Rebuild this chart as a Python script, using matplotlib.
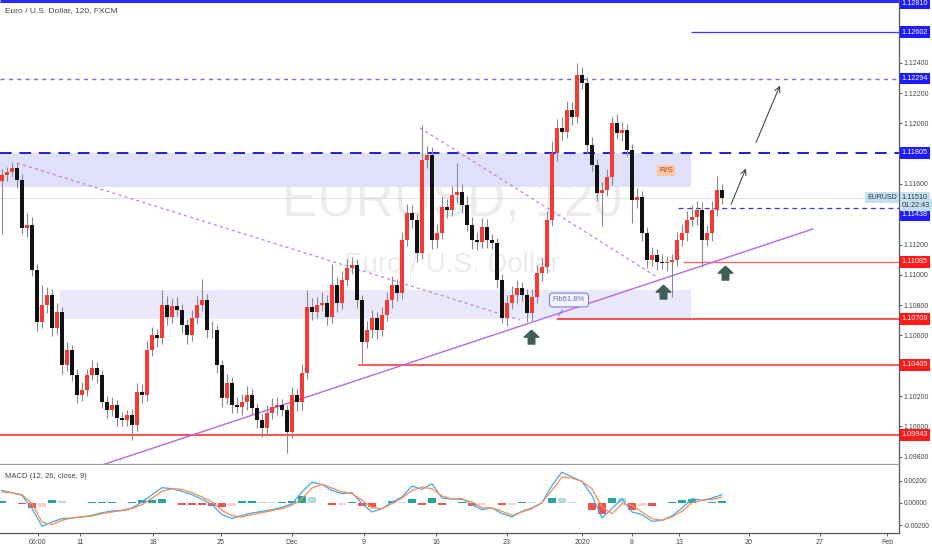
import numpy as np
import matplotlib
matplotlib.use("Agg")
import matplotlib.pyplot as plt
import matplotlib.transforms as mtransforms
from matplotlib.path import Path

plt.rcParams['font.family'] = ['Liberation Sans', 'DejaVu Sans']

# ---- price data (one candle ~ 4 bars of 2h) ----
first_open = 1.11620
closes = [
    1.11659, 1.11679, 1.11705, 1.11626, 1.11309, 1.11329, 1.11032, 1.10689, 1.10801, 1.10867,
    1.10649, 1.10755, 1.10405, 1.10504, 1.10339, 1.10207, 1.10240, 1.10339, 1.10385, 1.10339,
    1.10161, 1.10108, 1.10141, 1.10055, 1.10042, 1.10075, 1.10009, 1.10227, 1.10207, 1.10504,
    1.10603, 1.10583, 1.10801, 1.10722, 1.10794, 1.10768, 1.10669, 1.10603, 1.10715, 1.10801,
    1.10834, 1.10636, 1.10636, 1.10405, 1.10187, 1.10286, 1.10141, 1.10128, 1.10161, 1.10207,
    1.10121, 1.10042, 1.09989, 1.10088, 1.10128, 1.10141, 1.10108, 1.09963, 1.10207, 1.10161,
    1.10352, 1.10788, 1.10755, 1.10801, 1.10814, 1.10722, 1.10933, 1.10814, 1.10966, 1.11045,
    1.11065, 1.10834, 1.10557, 1.10636, 1.10715, 1.10636, 1.10735, 1.10834, 1.10933, 1.10880,
    1.11230, 1.11408, 1.11362, 1.11144, 1.11758, 1.11791, 1.11230, 1.11276, 1.11448, 1.11428,
    1.11527, 1.11547, 1.11461, 1.11329, 1.11230, 1.11217, 1.11316, 1.11230, 1.11210, 1.10966,
    1.10715, 1.10814, 1.10867, 1.10913, 1.10867, 1.10748, 1.10854, 1.11012, 1.11052, 1.11362,
    1.11804, 1.11969, 1.11943, 1.12088, 1.12042, 1.12319, 1.12266, 1.11857, 1.11725, 1.11540,
    1.11560, 1.11646, 1.12002, 1.11936, 1.11956, 1.11824, 1.11494, 1.11514, 1.11276, 1.11098,
    1.11131, 1.11085, 1.11078, 1.11085, 1.11098, 1.11230, 1.11276, 1.11362, 1.11382, 1.11428,
    1.11230, 1.11276, 1.11428, 1.11560, 1.11510,
]
# wick length beyond the body, in pips
hi_pips = [
    4, 3, 4, 3, 4, 8, 5, 4, 13, 5,
    4, 6, 3, 5, 3, 4, 5, 4, 5, 4,
    3, 4, 5, 3, 4, 3, 4, 6, 5, 6,
    5, 4, 10, 6, 5, 6, 4, 4, 5, 6,
    14, 4, 6, 3, 3, 6, 4, 5, 5, 6,
    4, 3, 4, 5, 6, 5, 4, 3, 5, 4,
    6, 11, 6, 5, 7, 5, 14, 5, 6, 6,
    5, 4, 3, 6, 5, 4, 5, 5, 6, 4,
    5, 6, 5, 4, 23, 6, 5, 6, 7, 5,
    6, 19, 5, 6, 5, 5, 6, 5, 4, 3,
    4, 5, 6, 5, 4, 4, 5, 5, 6, 6,
    8, 6, 7, 6, 5, 8, 5, 4, 5, 4,
    5, 5, 4, 6, 5, 4, 4, 6, 4, 4,
    5, 4, 5, 4, 4, 5, 6, 6, 8, 6,
    5, 5, 6, 9, 4,
]
lo_pips = [
    35, 4, 3, 5, 4, 6, 4, 6, 4, 5,
    5, 4, 6, 4, 4, 5, 4, 4, 3, 5,
    4, 5, 4, 5, 4, 4, 10, 4, 5, 4,
    4, 6, 4, 5, 4, 4, 5, 6, 4, 4,
    4, 5, 5, 5, 6, 4, 5, 4, 5, 5,
    4, 5, 6, 4, 4, 5, 4, 14, 4, 6,
    5, 4, 5, 4, 4, 5, 4, 6, 4, 4,
    4, 5, 14, 4, 5, 6, 4, 4, 5, 5,
    4, 4, 5, 6, 4, 5, 6, 5, 4, 5,
    4, 5, 5, 4, 6, 5, 4, 5, 4, 5,
    3, 5, 4, 5, 4, 6, 5, 4, 5, 4,
    4, 5, 5, 4, 5, 4, 4, 5, 4, 5,
    22, 4, 5, 4, 5, 4, 15, 5, 5, 5,
    4, 5, 4, 5, 23, 4, 4, 5, 4, 5,
    18, 4, 5, 4, 4,
]

macd_line = [
    0.00112, 0.00092, 0.00068, -0.00050, -0.00207, -0.00169, -0.00139, -0.00133, -0.00124, -0.00110,
    -0.00086, -0.00071, -0.00065, -0.00044, 0.00009, 0.00074, 0.00136, 0.00127, 0.00104, 0.00074,
    0.00033, -0.00015, -0.00104, -0.00139, -0.00110, -0.00089, -0.00074, -0.00059, -0.00038, -0.00006,
    0.00098, 0.00186, 0.00163, 0.00112, 0.00083, 0.00092, -0.00006, -0.00080, -0.00050, 0.00009,
    0.00053, 0.00151, 0.00121, 0.00172, 0.00044, 0.00033, 0.00038, -0.00015, -0.00059, -0.00044,
    -0.00095, -0.00124, -0.00074, -0.00044, 0.00003, 0.00157, 0.00275, 0.00231, 0.00192, 0.00068,
    -0.00133, -0.00050, 0.00038, -0.00080, -0.00104, -0.00163, -0.00154, -0.00115, -0.00044, 0.00038,
    0.00024, 0.00044, 0.00074,
]
signal_line = [
    0.00098, 0.00092, 0.00074, -0.00006, -0.00169, -0.00192, -0.00154, -0.00133, -0.00124, -0.00115,
    -0.00095, -0.00080, -0.00068, -0.00050, -0.00015, 0.00044, 0.00104, 0.00127, 0.00121, 0.00092,
    0.00053, 0.00009, -0.00065, -0.00115, -0.00124, -0.00104, -0.00086, -0.00068, -0.00050, -0.00021,
    0.00038, 0.00133, 0.00166, 0.00133, 0.00098, 0.00083, 0.00024, -0.00044, -0.00050, -0.00006,
    0.00044, 0.00112, 0.00142, 0.00127, 0.00062, 0.00033, 0.00033, 0.00009, -0.00044, -0.00044,
    -0.00074, -0.00110, -0.00080, -0.00050, 0.00003, 0.00112, 0.00231, 0.00222, 0.00192, 0.00127,
    -0.00036, -0.00095, -0.00006, -0.00021, -0.00080, -0.00139, -0.00154, -0.00124, -0.00074, 0.00003,
    0.00024, 0.00033, 0.00053,
]

# x axis (candle index units)
tick_pos = [7.2, 15.6, 30.2, 43.8, 58, 72.4, 86.8, 101, 116, 126, 135.4, 149.4, 163.6, 177]
tick_lab = ['06:00', '11', '18', '25', 'Dec', '9', '16', '23', '2020', '8', '13', '20', '27', 'Feb']

price_ticks = [1.098, 1.100, 1.102, 1.106, 1.108, 1.110, 1.112, 1.116, 1.120, 1.122, 1.124]

blue_levels = [1.12810, 1.12602, 1.12294, 1.11805, 1.11438]
red_levels = [1.11085, 1.10709, 1.10405, 1.09943]
level_start = {1.12810: None, 1.12602: 137.8, 1.12294: None, 1.11805: None,
               1.11438: 135.2, 1.11085: 136.2, 1.10709: 111.0, 1.10405: 71.2, 1.09943: None}
last_price = 1.11510

zone_hi = (-0.4, 137.8, 1.11581, 1.11805)
zone_lo = (11.6, 137.8, 1.10709, 1.10900)

trend_dash1 = ([3.0, 103.6], [1.11738, 1.10702])
trend_dash2 = ([83.6, 131.0], [1.11969, 1.10986])
trend_solid = ([20.0, 162.2], [1.09745, 1.11303])

arrow_small = ((145.6, 1.11448), (149.0, 1.11719))
arrow_big = ((150.6, 1.11857), (155.8, 1.12266))
up_marks_x = [105.8, 132.2, 144.6]
up_marks_y = [1.10590, 1.10886, 1.11012]

# ---- figure ----
W, H = 932, 550
fig = plt.figure(figsize=(W / 100, H / 100), dpi=100)
fig.patch.set_facecolor('white')
right = 899 / W
ax = fig.add_axes([0, (H - 465) / H, right, 465 / H])
axm = fig.add_axes([0, (H - 533) / H, right, 68 / H])

n = len(closes)
x = np.arange(n)
c = np.array(closes)
o = np.concatenate([[first_open], c[:-1]])
hi = np.maximum(o, c) + np.array(hi_pips) * 1e-4
lo = np.minimum(o, c) - np.array(lo_pips) * 1e-4
up = c >= o

ax.set_xlim(-0.4, 179.4)
ax.set_ylim(1.09745, 1.12814)

# watermark
ax.text(90, 1.11480, 'EURUSD, 120', fontsize=38, color='#ececec', ha='center', va='center', zorder=0)
ax.text(90, 1.11065, 'Euro / U.S. Dollar', fontsize=20, color='#ececec', ha='center', va='center', zorder=0)

# zones
for z, fc in [(zone_hi, '#e0e0fa'), (zone_lo, '#e9e9fb')]:
    ax.fill_between([z[0], z[1]], z[2], z[3], color=fc, lw=0, zorder=1)

ax.axhline(last_price, color='#cfe0ee', lw=0.6, zorder=1)

styles = {
    1.12810: dict(color='#2a2aff', lw=2.2, ls='-'),
    1.12602: dict(color='#3b3bff', lw=0.9, ls='-'),
    1.12294: dict(color='#6d6dff', lw=1.0, ls=(0, (3, 3))),
    1.11805: dict(color='#1f1fd6', lw=1.4, ls=(0, (6, 4))),
    1.11438: dict(color='#3636ff', lw=0.9, ls=(0, (4, 3))),
    1.11085: dict(color='#ff6b6b', lw=1.0, ls='-'),
    1.10709: dict(color='#ff3030', lw=1.2, ls='-'),
    1.10405: dict(color='#ff3030', lw=1.1, ls='-'),
    1.09943: dict(color='#ff3030', lw=1.2, ls='-'),
}
for lvl in blue_levels + red_levels:
    st = level_start[lvl]
    x0 = -0.4 if st is None else st
    ax.hlines(lvl, x0, 179.4, zorder=2, **styles[lvl])

# trend lines
ax.plot(*trend_dash1, color='#c77ee8', lw=0.9, ls=(0, (2.5, 2.5)), zorder=2)
ax.plot(*trend_dash2, color='#c77ee8', lw=0.9, ls=(0, (2.5, 2.5)), zorder=2)
ax.plot(*trend_solid, color='#b868e8', lw=1.0, zorder=2)

# candles
ax.vlines(x, lo, hi, color='#8a8a8a', lw=0.8, zorder=3)
body = np.where(np.abs(c - o) < 2e-5, 2e-5, c - o)
ax.bar(x, body, bottom=o, width=0.8, color=np.where(up, '#f43b32', '#111111'), lw=0, zorder=4)

# annotations
ax.annotate('', xy=arrow_small[1], xytext=arrow_small[0],
            arrowprops=dict(arrowstyle='->', color='#333333', lw=0.7), zorder=5)
ax.annotate('', xy=arrow_big[1], xytext=arrow_big[0],
            arrowprops=dict(arrowstyle='->', color='#333333', lw=0.7), zorder=5)
arrow_path = Path([(0, 1), (1, 0.05), (0.45, 0.05), (0.45, -0.9), (-0.45, -0.9),
                   (-0.45, 0.05), (-1, 0.05), (0, 1)])
ax.scatter(up_marks_x, up_marks_y, marker=arrow_path, s=110, color='#3f5f56', zorder=6)

ax.annotate('Fib61.8%', xy=(111.0, 1.10715), xytext=(113.4, 1.10834),
            fontsize=5.5, color='#6a6ad0', ha='center', va='center',
            bbox=dict(boxstyle='round,pad=0.45', fc='#f4f4ff', ec='#7c7cdc', lw=0.8),
            arrowprops=dict(arrowstyle='-', color='#7c7cdc', lw=0.8), zorder=7)
ax.text(132.8, 1.11686, 'R/S', fontsize=6, color='#a04a20', ha='center', va='center',
        bbox=dict(boxstyle='square,pad=0.25', fc='#ffc8a0', ec='none'), zorder=7)

ax.text(0.006, 0.985, 'Euro / U.S. Dollar, 120, FXCM', transform=ax.transAxes,
        fontsize=6, color='#444444', ha='left', va='top')

# axis styling
for a in (ax, axm):
    for s in ('left', 'top'):
        a.spines[s].set_visible(False)
    a.spines['right'].set_color('#555555')
    a.spines['right'].set_linewidth(0.9)
    a.spines['bottom'].set_color('#999999')
    a.spines['bottom'].set_linewidth(1.6)
    a.yaxis.tick_right()
    a.tick_params(axis='y', labelsize=5, colors='#444444', length=2, width=0.6, pad=1.5)

ax.set_yticks(price_ticks)
ax.set_yticklabels([f'{p:.5f}' for p in price_ticks])
ax.set_xticks([])

# right axis boxed labels
tr = mtransforms.blended_transform_factory(ax.transAxes, ax.transData)
label_y = {1.12810: 1.12790, 1.11438: 1.11395}
for lvl in blue_levels + red_levels:
    fc = '#1c1cff' if lvl in blue_levels else '#ff1a1a'
    ax.text(1.003, label_y.get(lvl, lvl), f'{lvl:.5f}', transform=tr, fontsize=5.2, color='white',
            ha='left', va='center', clip_on=False, zorder=10,
            bbox=dict(boxstyle='square,pad=0.3', fc=fc, ec='none'))
ax.text(1.003, last_price, f'{last_price:.5f}', transform=tr, fontsize=5.2, color='#333333',
        ha='left', va='center', clip_on=False, zorder=10,
        bbox=dict(boxstyle='square,pad=0.3', fc='#c2e0f2', ec='none'))
ax.text(1.003, 1.11460, '01:22:43', transform=tr, fontsize=5.2, color='#333333',
        ha='left', va='center', clip_on=False, zorder=10,
        bbox=dict(boxstyle='square,pad=0.3', fc='#c2e0f2', ec='none'))
ax.text(0.998, last_price, 'EURUSD', transform=tr, fontsize=5, color='#333333',
        ha='right', va='center', clip_on=False, zorder=10,
        bbox=dict(boxstyle='square,pad=0.3', fc='#c2e0f2', ec='none'))

# ---- MACD pane ----
macd = np.array(macd_line)
sig = np.array(signal_line)
mx = np.arange(len(macd)) * 2
hist = macd - sig
dh = np.diff(np.concatenate([[0], hist]))
hcol = np.where(hist >= 0, np.where(dh >= 0, '#26a69a', '#b2dfdb'),
                np.where(dh < 0, '#ef5350', '#ffcdd2'))
axm.bar(mx, hist, width=1.6, color=hcol, lw=0)
axm.plot(mx, macd, color='#3fa9f5', lw=0.9)
axm.plot(mx, sig, color='#ff8a50', lw=0.9)
axm.set_xlim(-0.4, 179.4)
axm.set_ylim(-0.00267, 0.00338)
axm.set_yticks([0.002, 0.0, -0.002])
axm.set_yticklabels(['0.00200', '0.00000', '-0.00200'])
axm.tick_params(axis='y', labelsize=4.8)
axm.set_xticks(tick_pos)
axm.set_xticklabels(tick_lab)
axm.tick_params(axis='x', labelsize=5, colors='#444444', length=2, width=0.6, pad=2)
axm.spines['bottom'].set_color('#555555')
axm.spines['bottom'].set_linewidth(0.9)
axm.text(0.006, 0.88, 'MACD (12, 26, close, 9)', transform=axm.transAxes,
         fontsize=5.5, color='#444444', ha='left', va='top')

fig.savefig('out.png', dpi=100, facecolor='white')
